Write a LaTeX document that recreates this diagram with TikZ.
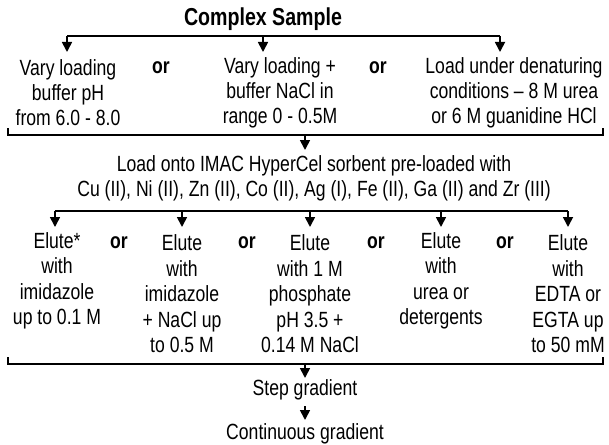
\documentclass[tikz,border=0pt]{standalone}
\usepackage{fontspec}
\setmainfont{Liberation Sans}[FakeStretch=0.8]
\usetikzlibrary{arrows.meta}
\begin{document}
\begin{tikzpicture}[x=1pt,y=-1pt,
  txt/.style={font=\fontsize{22}{25}\selectfont, align=center, inner sep=0pt},
  txtb/.style={font=\fontsize{22}{25.5}\selectfont, align=center, inner sep=0pt},
  orword/.style={font=\fontsize{22}{25}\selectfont\bfseries, inner sep=0pt},
  titleword/.style={font=\fontsize{24.5}{27}\selectfont\bfseries, inner sep=0pt},
  ln/.style={line width=1.7pt},
  arr/.style={line width=1.7pt, -{Triangle[width=10pt,length=10pt]}}]
\useasboundingbox (0,0) rectangle (609,444);
% title
\node[titleword] (cs) at (263,19) {Complex Sample};
% top distributor
\coordinate (t1) at (67,36);
\coordinate (t2) at (263,36);
\coordinate (t3) at (500,36);
\coordinate (t1e) at (67,52);
\coordinate (t2e) at (263,52);
\coordinate (t3e) at (500,52);
\draw[ln] (t1) -- (t3);
\draw[arr] (t1) -- (t1e);
\draw[arr] (t2) -- (t2e);
\draw[arr] (t3) -- (t3e);
% row 1
\node[txt] (v1) at (68,93) {Vary loading\\buffer pH\\from 6.0 - 8.0};
\node[orword] (or1) at (161,68) {or};
\node[txt] (v2) at (280,93) {Vary loading +\\buffer NaCl in\\range 0 - 0.5M};
\node[orword] (or2) at (378,68) {or};
\node[txt] (v3) at (514,93) {Load under denaturing\\conditions -- 8 M urea\\or 6 M guanidine HCl};
% bracket 1
\coordinate (b1l) at (8,128);
\coordinate (b1r) at (603,128);
\coordinate (b1m) at (305,135);
\draw[ln] (b1l) -- (8,135) -- (603,135) -- (b1r);
\coordinate (b1e) at (305,150);
\draw[arr] (b1m) -- (b1e);
% load
\node[txt] (load) at (314,178) {Load onto IMAC HyperCel sorbent pre-loaded with\\Cu (II), Ni (II), Zn (II), Co (II), Ag (I), Fe (II), Ga (II) and Zr (III)};
% distributor 2
\coordinate (d1) at (55,211);
\coordinate (d2) at (182,211);
\coordinate (d3) at (310,211);
\coordinate (d4) at (441,211);
\coordinate (d5) at (568,211);
\draw[ln] (d1) -- (d5);
\foreach \p in {d1,d2,d3,d4,d5}{
  \draw[arr] (\p) -- ++(0,16);
}
% row 2
\node[txtb] (e1) at (57,281) {Elute*\\with\\imidazole\\up to 0.1 M};
\node[orword] (or3) at (119,243) {or};
\node[txtb] (e2) at (182,294) {Elute\\with\\imidazole\\+ NaCl up\\to 0.5 M};
\node[orword] (or4) at (247,243) {or};
\node[txtb] (e3) at (310,294) {Elute\\with 1 M\\phosphate\\pH 3.5 +\\0.14 M NaCl};
\node[orword] (or5) at (376,243) {or};
\node[txtb] (e4) at (441,281) {Elute\\with\\urea or\\detergents};
\node[orword] (or6) at (505,243) {or};
\node[txtb] (e5) at (568,294) {Elute\\with\\EDTA or\\EGTA up\\to 50 mM};
% bracket 2
\coordinate (b2l) at (8,357);
\coordinate (b2r) at (603,357);
\coordinate (b2m) at (305,364);
\draw[ln] (b2l) -- (8,364) -- (603,364) -- (b2r);
\coordinate (b2e) at (305,378);
\draw[arr] (b2m) -- (b2e);
\node[txt] (sg) at (305,390) {Step gradient};
\coordinate (sge) at (305,406);
\coordinate (cgs) at (305,420);
\draw[arr] (sge) -- (cgs);
\node[txt] (cg) at (305,434) {Continuous gradient};
\end{tikzpicture}
\end{document}
